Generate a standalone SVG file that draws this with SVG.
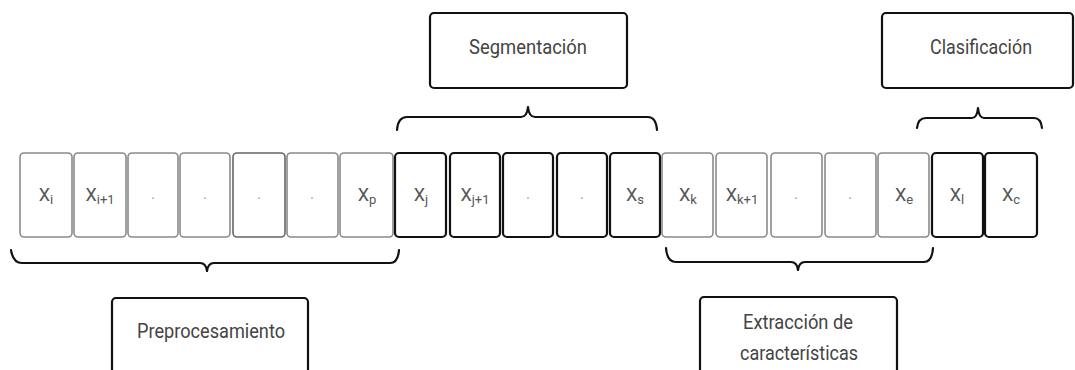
<svg xmlns="http://www.w3.org/2000/svg" width="1075" height="370" viewBox="0 0 1075 370">
<style>
.cg{fill:#fff;stroke:#8a8a8a;stroke-width:1.6}
.cb{fill:#fff;stroke:#111;stroke-width:2.2}
.box{fill:#fff;stroke:#111;stroke-width:2.2}
.lbl{font-family:Roboto,"Liberation Sans",sans-serif;font-size:18px;fill:#555;text-anchor:middle}
.sub{font-size:13px}
.dot{font-family:"Liberation Sans",sans-serif;font-size:14px;fill:#999;text-anchor:middle}
.t{font-family:Roboto,"Liberation Sans",sans-serif;font-size:21px;fill:#444;text-anchor:middle}
.br{fill:none;stroke:#111;stroke-width:2.2;stroke-linejoin:round;stroke-linecap:round}
</style>
<rect width="1075" height="370" fill="#fff"/>
<g id="cells">
<g id="c1"><rect class="cg" x="20" y="153" width="52" height="84" rx="4"/><text class="lbl" x="46" y="201">X<tspan class="sub" dy="3">i</tspan></text></g>
<g id="c2"><rect class="cg" x="74" y="153" width="52" height="84" rx="4"/><text class="lbl" x="100" y="201">X<tspan class="sub" dy="3">i+1</tspan></text></g>
<g id="c3"><rect class="cg" x="128" y="153" width="50" height="84" rx="4"/><text class="dot" x="153" y="199">.</text></g>
<g id="c4"><rect class="cg" x="180" y="153" width="50" height="84" rx="4"/><text class="dot" x="205" y="199">.</text></g>
<g id="c5"><rect class="cg" x="233" y="153" width="52" height="84" rx="4" style="stroke:#666"/><text class="dot" x="259" y="199">.</text></g>
<g id="c6"><rect class="cg" x="287" y="153" width="51" height="84" rx="4"/><text class="dot" x="312" y="199">.</text></g>
<g id="c7"><rect class="cg" x="340" y="153" width="53" height="84" rx="4"/><text class="lbl" x="367" y="201">X<tspan class="sub" dy="3">p</tspan></text></g>
<g id="c8"><rect class="cb" x="395" y="153" width="51" height="84" rx="4"/><text class="lbl" x="421" y="201">X<tspan class="sub" dy="3">j</tspan></text></g>
<g id="c9"><rect class="cb" x="450" y="153" width="50" height="84" rx="4"/><text class="lbl" x="475" y="201">X<tspan class="sub" dy="3">j+1</tspan></text></g>
<g id="c10"><rect class="cb" x="503" y="153" width="50" height="84" rx="4"/><text class="dot" x="528" y="199">.</text></g>
<g id="c11"><rect class="cb" x="557" y="153" width="50" height="84" rx="4"/><text class="dot" x="582" y="199">.</text></g>
<g id="c12"><rect class="cb" x="610" y="153" width="50" height="84" rx="4"/><text class="lbl" x="635" y="201">X<tspan class="sub" dy="3">s</tspan></text></g>
<g id="c13"><rect class="cg" x="662" y="153" width="51" height="84" rx="4"/><text class="lbl" x="688" y="201">X<tspan class="sub" dy="3">k</tspan></text></g>
<g id="c14"><rect class="cg" x="716" y="153" width="51" height="84" rx="4"/><text class="lbl" x="742" y="201">X<tspan class="sub" dy="3">k+1</tspan></text></g>
<g id="c15"><rect class="cg" x="771" y="153" width="51" height="84" rx="4"/><text class="dot" x="796" y="199">.</text></g>
<g id="c16"><rect class="cg" x="825" y="153" width="51" height="84" rx="4"/><text class="dot" x="850" y="199">.</text></g>
<g id="c17"><rect class="cg" x="878" y="153" width="51" height="84" rx="4"/><text class="lbl" x="904" y="201">X<tspan class="sub" dy="3">e</tspan></text></g>
<g id="c18"><rect class="cb" x="932" y="153" width="51" height="84" rx="4"/><text class="lbl" x="957" y="201">X<tspan class="sub" dy="3">l</tspan></text></g>
<g id="c19"><rect class="cb" x="985" y="153" width="52" height="84" rx="4"/><text class="lbl" x="1011" y="201">X<tspan class="sub" dy="3">c</tspan></text></g>
</g>
<g id="connectors">
<path class="br" d="M11,250 Q13,263 22,263 L200,263 Q206,263 207,271 Q208,263 214,263 L390,263 Q398,263 399,250"/>
<path class="br" d="M666,248 Q667,262 676,262 L791,262 Q797,262 798,270 Q799,262 805,262 L924,262 Q932,262 933,248"/>
<path class="br" d="M397,130 Q398,117 407,117 L521,117 Q527,117 528,107 Q529,117 535,117 L648,117 Q656,117 657,130"/>
<path class="br" d="M917,128 Q918,118 926,118 L972,118 Q977,118 978,108 Q979,118 984,118 L1034,118 Q1041,118 1042,128"/>
</g>
<g id="seg"><rect class="box" x="430" y="13" width="197" height="75" rx="4"/><text class="t" x="528" y="54" textLength="118" lengthAdjust="spacingAndGlyphs">Segmentación</text></g>
<g id="clas"><rect class="box" x="882" y="13" width="191" height="75" rx="4"/><text class="t" x="981" y="54" textLength="102" lengthAdjust="spacingAndGlyphs">Clasificación</text></g>
<g id="pre"><rect class="box" x="112" y="298" width="196" height="80" rx="4"/><text class="t" x="211" y="338" textLength="148" lengthAdjust="spacingAndGlyphs">Preprocesamiento</text></g>
<g id="ext"><rect class="box" x="700" y="297" width="197" height="80" rx="4"/><text class="t" x="798" y="329" textLength="110" lengthAdjust="spacingAndGlyphs">Extracción de</text><text class="t" x="799" y="360" textLength="118" lengthAdjust="spacingAndGlyphs">características</text></g>
</svg>
